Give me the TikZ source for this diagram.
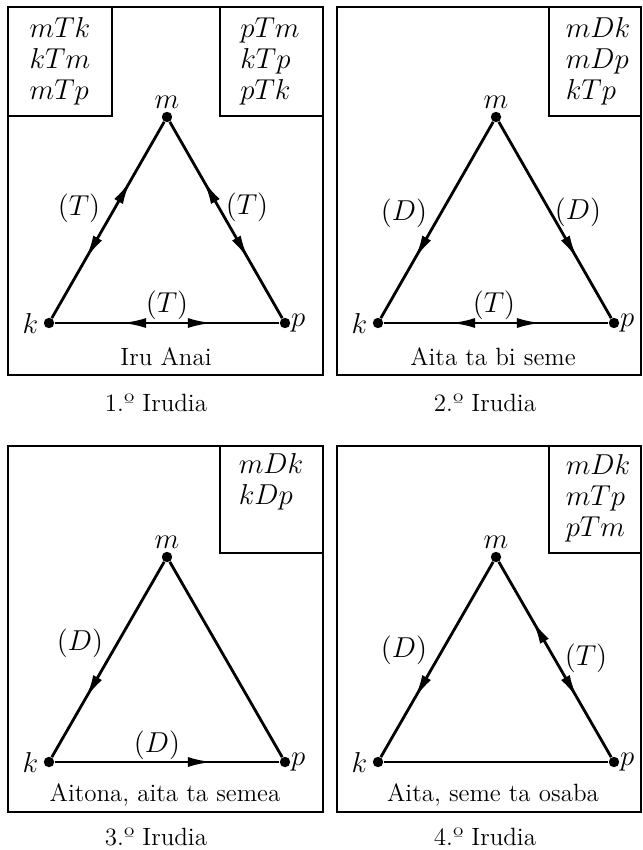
\documentclass[tikz,border=0pt]{standalone}
\usepackage{fontspec}
\usetikzlibrary{arrows.meta,decorations.markings}
\tikzset{
dot/.style={circle, fill=black, inner sep=0pt, minimum size=5.2pt},
panel/.style={draw, line width=1.1pt},
relbox/.style={draw, line width=0.7pt},
rels/.style={align=left, inner sep=0pt},
edge/.style={line width=1.4pt},
oneway/.style={postaction={decorate}, decoration={markings, mark=at position 0.7 with {\arrow{>}}}},
twoway/.style={postaction={decorate}, decoration={markings, mark=at position 0.3 with {\arrowreversed{>}}, mark=at position 0.7 with {\arrow{>}}}},
caption/.style={font=\fontsize{12.5}{14}\selectfont},
vm/.style={label={[label distance=-2pt]above:$m$}},
vk/.style={label={[label distance=-1pt]left:$k$}},
vp/.style={label={[inner sep=0pt]right:$p$}}
}

\begin{document}
\begin{tikzpicture}[x=0.5pt, y=-0.5pt, >={Latex[length=12pt 0,width=5pt 0]}, font=\fontsize{14}{15.5}\selectfont]
    \useasboundingbox (0,0) rectangle (642,850);

    % 1. irudia
    \draw[panel] (8,7) rectangle (323,375);
    \draw[relbox] (8,7) rectangle (112,116);
    \draw[relbox] (220,7) rectangle (323,116);
    \node[rels] (r1a) at (60,61) {$mTk$\\$kTm$\\$mTp$};
    \node[rels] (r1b) at (270,61) {$pTm$\\$kTp$\\$pTk$};
    \node[dot, vm] (m1) at (167,117) {};
    \node[dot, vk] (k1) at (49,323) {};
    \node[dot, vp] (p1) at (285,323) {};
    \draw[edge, twoway] (m1) -- (k1);
    \draw[edge, twoway] (m1) -- (p1);
    \draw[edge, twoway] (k1) -- (p1);
    \node (l1a) at (79,208) {$(T)$};
    \node (l1b) at (247,207) {$(T)$};
    \node (l1c) at (167,305) {$(T)$};
    \node[caption] (n1) at (166,357) {Iru Anai};
    \node[caption] (c1) at (156,403) {1.º Irudia};

    % 2. irudia
    \draw[panel] (337,7) rectangle (641,375);
    \draw[relbox] (549,7) rectangle (641,116);
    \node[rels] (r2) at (598,61) {$mDk$\\$mDp$\\$kTp$};
    \node[dot, vm] (m2) at (496,117) {};
    \node[dot, vk] (k2) at (378,323) {};
    \node[dot, vp] (p2) at (614,323) {};
    \draw[edge, oneway] (m2) -- (k2);
    \draw[edge, oneway] (m2) -- (p2);
    \draw[edge, twoway] (k2) -- (p2);
    \node (l2a) at (404,213) {$(D)$};
    \node (l2b) at (578,212) {$(D)$};
    \node (l2c) at (494,305) {$(T)$};
    \node[caption] (n2) at (493,357) {Aita ta bi seme};
    \node[caption] (c2) at (485,403) {2.º Irudia};

    % 3. irudia
    \draw[panel] (8,446) rectangle (323,812);
    \draw[relbox] (220,446) rectangle (323,553);
    \node[rels] (r3) at (271,482) {$mDk$\\$kDp$};
    \node[dot, vm] (m3) at (167,557) {};
    \node[dot, vk] (k3) at (49,762) {};
    \node[dot, vp] (p3) at (285,762) {};
    \draw[edge, oneway] (m3) -- (k3);
    \draw[edge] (m3) -- (p3);
    \draw[edge, oneway] (k3) -- (p3);
    \node (l3a) at (80,643) {$(D)$};
    \node (l3c) at (157,745) {$(D)$};
    \node[caption] (n3) at (165,795) {Aitona, aita ta semea};
    \node[caption] (c3) at (156,837) {3.º Irudia};

    % 4. irudia
    \draw[panel] (337,446) rectangle (641,812);
    \draw[relbox] (549,446) rectangle (641,553);
    \node[rels] (r4) at (598,498) {$mDk$\\$mTp$\\$pTm$};
    \node[dot, vm] (m4) at (496,557) {};
    \node[dot, vk] (k4) at (378,762) {};
    \node[dot, vp] (p4) at (614,762) {};
    \draw[edge, oneway] (m4) -- (k4);
    \draw[edge, twoway] (m4) -- (p4);
    \draw[edge] (k4) -- (p4);
    \node (l4a) at (404,650) {$(D)$};
    \node (l4b) at (586,658) {$(T)$};
    \node[caption] (n4) at (493,795) {Aita, seme ta osaba};
    \node[caption] (c4) at (485,837) {4.º Irudia};
\end{tikzpicture}
\end{document}
